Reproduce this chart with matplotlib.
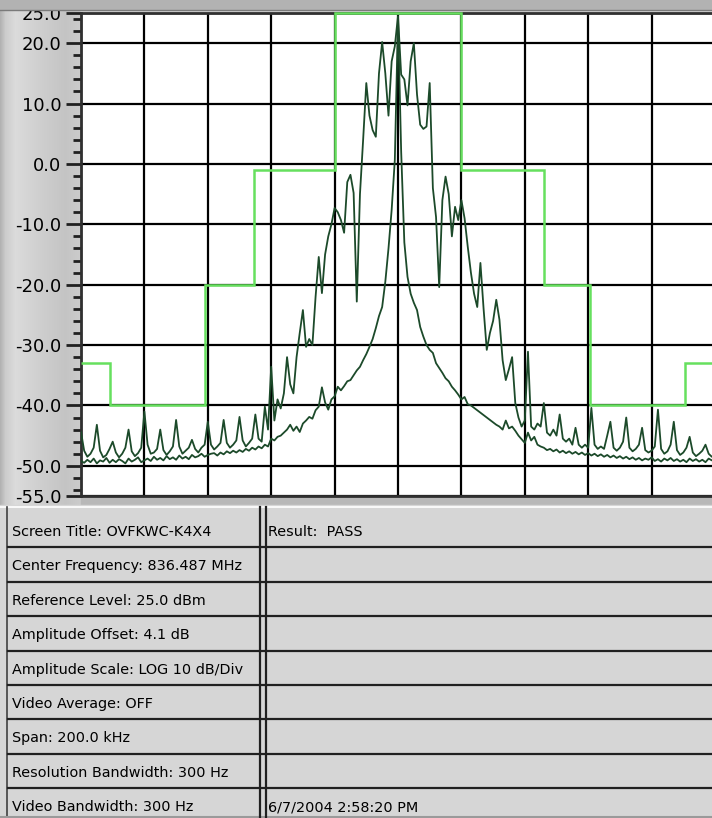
import numpy as np
import matplotlib
matplotlib.use("Agg")
import matplotlib.pyplot as plt
from matplotlib.patches import Rectangle

# frequency offset from centre (kHz), span 200 kHz -> 20 kHz/div
freq = list(range(-100, 101))

# max hold trace, dBm
trace_wide = [
    -44.4, -47.5, -48.5, -48.0, -47.0, -43.2, -47.5, -48.6, -48.2, -47.2,
    -46.0, -47.8, -48.6, -48.0, -47.0, -44.0, -47.6, -48.4, -47.9, -47.0,
    -41.0, -46.5, -48.0, -47.8, -47.2, -44.0, -47.4, -48.2, -47.6, -46.8,
    -42.4, -46.8, -48.0, -47.5, -47.0, -45.7, -47.2, -47.8, -47.0, -46.5,
    -42.7, -46.5, -47.3, -46.8, -46.2, -42.4, -46.2, -47.0, -46.5, -45.8,
    -41.9, -45.8, -46.8, -46.2, -45.5, -41.5, -45.5, -46.0, -40.2, -44.0,
    -33.6, -42.5, -39.0, -40.5, -38.0, -32.0, -36.5, -38.0, -32.0, -28.0,
    -24.2, -30.3, -29.0, -30.0, -22.0, -15.4, -21.4, -15.0, -12.0, -10.0,
    -7.3, -8.0, -9.3, -11.4, -3.0, -1.8, -4.8, -22.8, -5.0, 4.0,
    13.4, 8.0, 5.6, 4.5, 15.0, 20.2, 15.0, 8.0, 17.0, 19.5,
    24.5, 14.8, 14.0, 9.7, 17.0, 20.0, 11.5, 6.5, 5.8, 6.2,
    13.4, -4.0, -8.8, -20.4, -6.0, -2.1, -5.0, -12.0, -7.1, -9.3,
    -6.0, -9.0, -13.7, -18.0, -21.5, -23.7, -16.4, -24.0, -30.8, -28.0,
    -26.0, -22.5, -25.8, -32.5, -35.8, -34.0, -32.0, -39.6, -42.0, -43.5,
    -42.5, -31.1, -43.5, -44.0, -43.0, -43.5, -39.6, -44.5, -45.0, -44.0,
    -45.0, -41.5, -45.5, -46.0, -45.5, -46.5, -43.7, -46.5, -47.0, -46.5,
    -47.0, -40.4, -46.5, -47.2, -46.8, -47.2, -45.0, -42.7, -47.0, -47.5,
    -47.0, -46.0, -42.0, -47.0, -47.6, -47.2, -46.5, -43.7, -47.4, -47.8,
    -47.5, -46.8, -40.7, -47.2, -48.0, -47.6, -46.5, -42.7, -47.4, -48.2,
    -47.8, -47.0, -45.2, -47.8, -48.4, -48.0, -47.5, -46.5, -48.0, -48.5,
    -48.2,
]

# carrier trace, dBm
trace_narrow = [
    -49.2, -49.5, -49.0, -49.4, -48.8, -49.6, -49.1, -49.3, -48.7, -49.5,
    -49.0, -49.4, -48.9, -49.2, -49.6, -48.8, -49.3, -49.0, -48.6, -49.4,
    -49.1, -48.8, -49.2, -48.5, -49.0, -48.7, -49.1, -48.4, -48.9, -48.6,
    -49.0, -48.3, -48.8, -48.5, -48.9, -48.2, -48.6, -48.4, -48.0, -48.5,
    -48.2, -48.0, -47.9, -48.3, -47.8, -48.1, -47.6, -47.9, -47.5, -47.8,
    -47.4, -47.7, -47.2, -47.5, -47.0, -47.3, -46.8, -47.1, -46.5, -46.8,
    -45.5, -45.8, -45.2, -45.0, -44.5, -44.0, -43.2, -44.2, -43.5, -44.4,
    -43.0, -42.5, -41.9, -42.2, -40.8, -40.2, -37.0, -39.5, -40.7, -39.0,
    -38.5, -36.9, -37.5, -36.8, -36.0, -35.8, -35.0, -34.2, -33.6, -32.5,
    -31.5, -30.3, -29.0, -27.2, -25.2, -23.7, -19.5, -14.0, -7.6, 0.7,
    24.0, 2.0, -13.0, -18.7, -21.5, -23.0, -24.2, -27.0, -28.6, -30.0,
    -30.8, -31.3, -33.0, -33.8, -34.6, -35.5, -36.0, -36.9, -37.5, -38.2,
    -39.0, -38.6, -39.8, -40.0, -40.4, -40.8, -41.2, -41.6, -42.0, -42.4,
    -42.8, -43.2, -43.5, -44.0, -42.5, -43.8, -43.5, -44.2, -45.0, -45.6,
    -46.2, -44.5, -45.8, -45.2, -46.5, -46.8, -47.0, -47.4, -47.2, -47.6,
    -47.3, -47.8, -47.5, -47.9, -47.6, -48.0, -47.7, -48.1, -47.8, -48.2,
    -47.9, -48.3, -48.0, -48.4, -48.1, -48.5, -48.2, -48.6, -48.3, -48.7,
    -48.4, -48.8, -48.5, -48.9, -48.6, -49.0, -48.7, -49.1, -48.8, -49.0,
    -48.6, -49.2, -48.9, -49.3, -48.8, -49.1, -48.7, -49.2, -48.9, -49.3,
    -49.0, -49.4, -48.8, -49.2, -48.9, -49.3, -49.0, -49.4, -48.8, -49.1,
    -49.0,
]

# limit mask: segment edges (kHz) and level (dBm)
mask_edges = [-100, -91, -61, -45.5, -20, 20, 46, 60.5, 90.5, 100]
mask_level = [-33, -40, -20, -1, 25, -1, -20, -40, -33]

y_major = [25, 20, 10, 0, -10, -20, -30, -40, -50, -55]
y_minor = [v for v in range(-54, 25, 2) if v not in y_major]

left_rows = [
    "Screen Title: OVFKWC-K4X4",
    "Center Frequency: 836.487 MHz",
    "Reference Level: 25.0 dBm",
    "Amplitude Offset: 4.1 dB",
    "Amplitude Scale: LOG 10 dB/Div",
    "Video Average: OFF",
    "Span: 200.0 kHz",
    "Resolution Bandwidth: 300 Hz",
    "Video Bandwidth: 300 Hz",
]
right_rows = ["Result:  PASS", "", "", "", "", "", "", "", "6/7/2004 2:58:20 PM"]

W, H = 712, 818
fig = plt.figure(figsize=(W / 100, H / 100), dpi=100)
fig.patch.set_facecolor('#d6d6d6')

# background: grey panel on the left
bg = fig.add_axes([0, 0, 1, 1], zorder=0)
bg.set_xlim(0, W)
bg.set_ylim(H, 0)
bg.axis('off')
g = np.interp(np.arange(81), [0, 5, 15, 40, 65, 81],
              [0.70, 0.80, 0.86, 0.81, 0.77, 0.80])
bg.imshow(np.dstack([g, g, g]), extent=(0, 81, 505, 0), aspect='auto',
          interpolation='bilinear')
bg.add_patch(Rectangle((81, 496), W, 10, color='#b8b8b8'))

# spectrum plot
ax = fig.add_axes([81 / W, 1 - 496 / H, (715 - 81) / W, 483 / H], zorder=1)
ax.set_facecolor('white')
ax.set_xlim(-100, 100)
ax.set_ylim(-55, 25)
ax.set_xticks(np.arange(-100, 101, 20))
ax.tick_params(axis='x', length=0, labelbottom=False)
ax.set_yticks(y_major)
ax.set_yticklabels([f"{v:.1f}" for v in y_major])
ax.set_yticks(y_minor, minor=True)
ax.tick_params(axis='y', which='major', direction='out', length=11, width=2,
               labelsize=13, pad=3, color='#202020')
ax.tick_params(axis='y', which='minor', direction='out', length=6, width=2,
               color='#202020')
ax.grid(True, which='major', color='black', lw=1.6)
ax.set_axisbelow(True)
for s in ax.spines.values():
    s.set_color('#303030')
    s.set_linewidth(2)

ax.stairs(mask_level, mask_edges, baseline=None, color='#66e05e', lw=1.8,
          zorder=3, clip_on=False)
ax.plot(freq, trace_narrow, color='#1c4a2a', lw=1.3, zorder=4)
ax.plot(freq, trace_wide, color='#1c4a2a', lw=1.3, zorder=4)

# overlay: top band and the info table
ov = fig.add_axes([0, 0, 1, 1], zorder=2)
ov.set_xlim(0, W)
ov.set_ylim(H, 0)
ov.axis('off')
ov.patch.set_alpha(0)
ov.add_patch(Rectangle((0, 0), W, 9, color='#b2b2b2'))
ov.plot([0, W], [9.5, 9.5], color='#7a7a7a', lw=1)

ov.add_patch(Rectangle((0, 505), W, H - 505, color='#d6d6d6'))
ov.plot([0, W], [506.5, 506.5], color='white', lw=1.2)
ov.plot([7, 7], [507, H], color='#404040', lw=1.2)
ov.plot([0, W], [816.5, 816.5], color='#9a9a9a', lw=1.5)
row_h = 34.4
for i in range(1, 9):
    y = 513 + i * row_h
    ov.plot([8, W], [y, y], color='#202020', lw=1.6)
for xv in (260, 265.5):
    ov.plot([xv, xv], [507, H], color='#202020', lw=1.6)
for i, (l, r) in enumerate(zip(left_rows, right_rows)):
    yc = 513 + (i + 0.55) * row_h
    ov.text(12, yc, l, va='center', ha='left', fontsize=10.4, color='black')
    if r:
        ov.text(268, yc, r, va='center', ha='left', fontsize=10.4, color='black')

fig.savefig('out.png', dpi=100)
